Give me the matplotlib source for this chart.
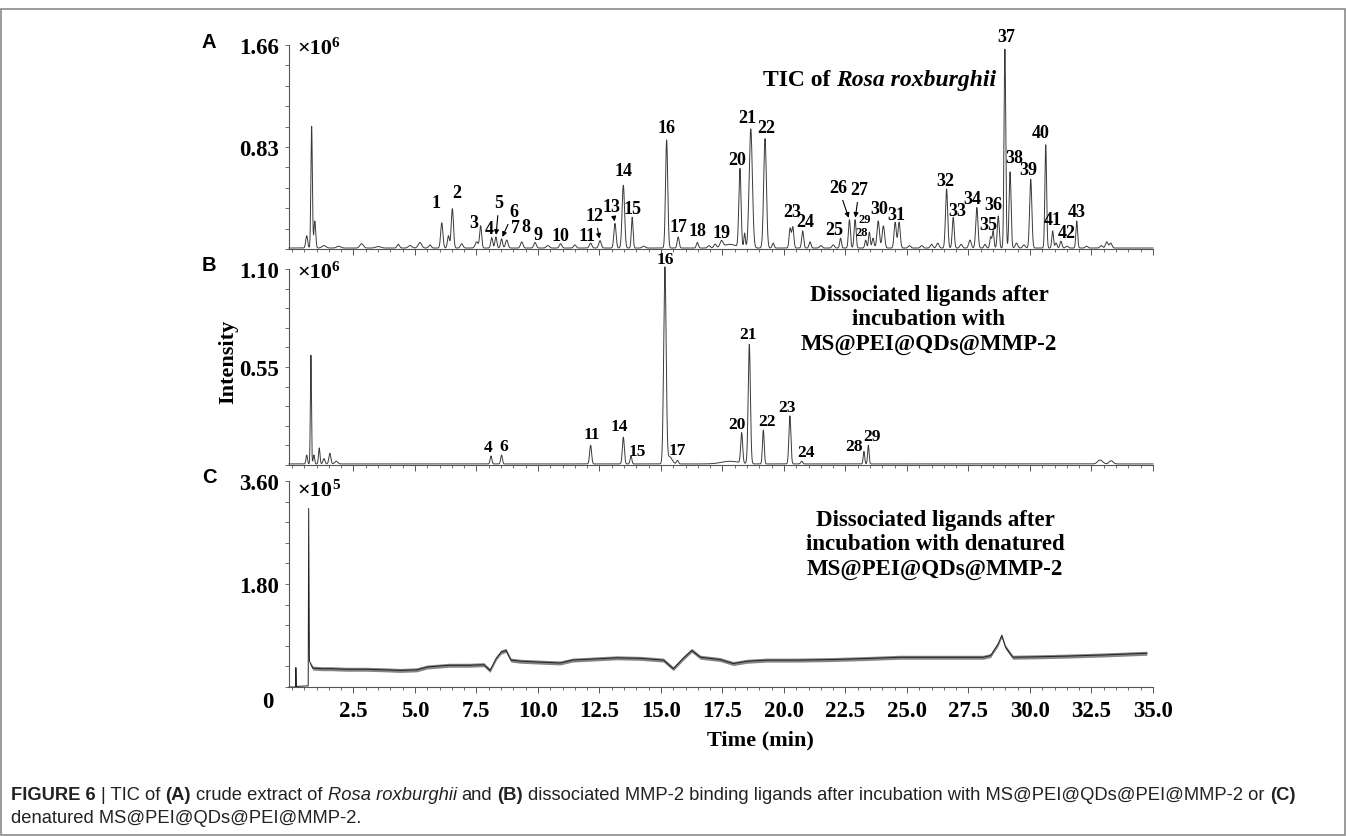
import numpy as np
import matplotlib
matplotlib.use('Agg')
from matplotlib import pyplot as plt
from matplotlib.patches import Rectangle
from matplotlib.ticker import FixedLocator, MultipleLocator, FormatStrFormatter

W, H = 1346, 837
SERIF = 'Liberation Serif'
SANS = 'Liberation Sans'
INK = '#3a3a3a'

# ---- panel A: TIC of crude extract, peaks
# retention time (min), height (x10^6), width (min), peak number
a_rt = [0.60, 0.80, 0.93, 1.30, 1.90, 2.83, 3.50, 4.32, 4.80, 5.20, 5.61,
        6.09, 6.36, 6.52, 6.90, 7.51, 7.67, 8.12, 8.29, 8.52, 8.73, 9.34,
        9.88, 10.40, 10.92, 11.50, 12.14, 12.52, 13.13, 13.47, 13.83, 14.30,
        15.23, 15.70, 16.48, 16.95, 17.20, 17.46, 17.80, 18.21, 18.40, 18.65,
        19.23, 19.56, 20.25, 20.36, 20.76, 21.06, 21.50, 22.00, 22.30, 22.66,
        22.89, 23.32, 23.47, 23.62, 23.83, 24.04, 24.52, 24.68, 25.10, 25.60,
        26.00, 26.25, 26.61, 26.88, 27.20, 27.56, 27.84, 28.17, 28.40, 28.50,
        28.71, 28.98, 29.19, 29.45, 29.75, 30.03, 30.64, 30.92, 31.06, 31.26,
        31.50, 31.90, 32.30, 32.90, 33.12, 33.28]
a_height = [0.10, 0.99, 0.22, 0.02, 0.015, 0.035, 0.012, 0.03, 0.02, 0.045, 0.025,
            0.205, 0.10, 0.32, 0.035, 0.05, 0.18, 0.085, 0.09, 0.075, 0.065, 0.05,
            0.045, 0.02, 0.035, 0.025, 0.04, 0.06, 0.20, 0.51, 0.25, 0.015,
            0.88, 0.09, 0.045, 0.02, 0.03, 0.05, 0.03, 0.64, 0.12, 0.97,
            0.89, 0.04, 0.16, 0.17, 0.14, 0.05, 0.02, 0.025, 0.08, 0.23,
            0.23, 0.065, 0.13, 0.08, 0.22, 0.18, 0.21, 0.21, 0.02, 0.02,
            0.03, 0.04, 0.48, 0.25, 0.03, 0.065, 0.33, 0.03, 0.09, 0.14,
            0.26, 1.62, 0.62, 0.04, 0.025, 0.56, 0.84, 0.14, 0.04, 0.055,
            0.015, 0.22, 0.015, 0.02, 0.05, 0.04]
a_width = [0.04, 0.03, 0.035, 0.08, 0.08, 0.07, 0.10, 0.05, 0.07, 0.07, 0.05,
           0.045, 0.04, 0.045, 0.05, 0.06, 0.04, 0.04, 0.04, 0.04, 0.05, 0.05,
           0.05, 0.06, 0.05, 0.05, 0.05, 0.05, 0.045, 0.05, 0.035, 0.06,
           0.045, 0.04, 0.04, 0.05, 0.05, 0.06, 0.25, 0.045, 0.03, 0.065,
           0.055, 0.04, 0.04, 0.04, 0.04, 0.04, 0.05, 0.05, 0.035, 0.04,
           0.04, 0.035, 0.035, 0.04, 0.05, 0.05, 0.045, 0.045, 0.05, 0.05,
           0.05, 0.05, 0.045, 0.04, 0.05, 0.05, 0.045, 0.04, 0.035, 0.035,
           0.04, 0.035, 0.04, 0.05, 0.05, 0.045, 0.035, 0.035, 0.04, 0.04,
           0.05, 0.035, 0.05, 0.05, 0.05, 0.05]
a_no = ['', '', '', '', '', '', '', '', '', '', '',
        '1', '', '2', '', '', '3', '4', '5', '6', '7', '8',
        '9', '', '10', '', '11', '12', '13', '14', '15', '',
        '16', '17', '18', '', '', '19', '', '20', '', '21',
        '22', '', '', '23', '24', '', '', '', '25', '26',
        '27', '28', '29', '', '30', '', '31', '', '', '',
        '', '', '32', '33', '', '', '34', '', '', '35',
        '36', '37', '38', '', '', '39', '40', '41', '', '42',
        '', '43', '', '', '', '']
a_base = 0.008

# ---- panel B: ligands after incubation with MS@PEI@QDs@MMP-2
b_rt = [0.60, 0.77, 0.89, 1.11, 1.30, 1.54, 1.80, 8.09, 8.52, 12.14, 13.47,
        13.78, 15.16, 15.35, 15.67, 17.80, 18.28, 18.59, 19.16, 20.24, 20.72,
        23.25, 23.43, 32.85, 33.30]
b_height = [0.05, 0.61, 0.05, 0.09, 0.03, 0.06, 0.015, 0.045, 0.05, 0.105, 0.15,
            0.045, 1.10, 0.04, 0.02, 0.015, 0.17, 0.67, 0.19, 0.27, 0.015,
            0.07, 0.105, 0.022, 0.018]
b_width = [0.03, 0.022, 0.03, 0.03, 0.04, 0.04, 0.06, 0.035, 0.035, 0.04, 0.04,
           0.035, 0.05, 0.10, 0.04, 0.35, 0.04, 0.045, 0.035, 0.04, 0.04,
           0.03, 0.03, 0.10, 0.08]
b_no = ['', '', '', '', '', '', '', '4', '6', '11', '14',
        '15', '16', '', '17', '', '20', '21', '22', '23', '24',
        '28', '29', '', '']
b_base = 0.006

# ---- panel C: ligands after incubation with denatured enzyme (x10^5)
c_time = [-0.12, 0.15, 0.16, 0.18, 0.66, 0.68, 0.71, 0.76, 0.85, 1.2, 1.6, 2.2,
          3.0, 3.8, 4.4, 5.07, 5.5, 6.4, 7.2, 7.8, 8.05, 8.3, 8.5, 8.7, 8.9,
          9.3, 9.8, 10.9, 11.4, 12.3, 13.2, 14.2, 15.1, 15.5, 15.9, 16.25,
          16.6, 17.4, 17.94, 18.5, 19.3, 20.5, 22.0, 23.5, 24.7, 26.5, 28.1,
          28.4, 28.7, 28.85, 29.0, 29.3, 30.5, 31.5, 33.0, 34.75]
c_level = [0.0, 0.0, 0.34, 0.01, 0.02, 3.12, 0.46, 0.40, 0.33, 0.32, 0.32, 0.31,
           0.31, 0.30, 0.29, 0.30, 0.35, 0.38, 0.38, 0.39, 0.29, 0.50, 0.61, 0.64, 0.47,
           0.45, 0.44, 0.42, 0.47, 0.49, 0.51, 0.50, 0.47, 0.32, 0.50, 0.64,
           0.52, 0.48, 0.41, 0.45, 0.47, 0.47, 0.48, 0.50, 0.52, 0.52, 0.52,
           0.55, 0.75, 0.90, 0.70, 0.52, 0.53, 0.54, 0.56, 0.59]
c_noise = 0.035

x_ticks = [2.5, 5.0, 7.5, 10.0, 12.5, 15.0, 17.5, 20.0, 22.5, 25.0, 27.5,
           30.0, 32.5, 35.0]

a_offsets = {'1': (-6, 20), '2': (4, 16), '3': (-7, 3), '4': (-2, 9), '5': (3, 34),
             '6': (12, 27), '7': (9, 13), '8': (4, 15), '9': (3, 8), '10': (0, 8),
             '11': (-4, 8), '12': (-5, 25), '13': (-3, 17), '14': (0, 15),
             '15': (0, 9), '16': (0, 12), '17': (0, 10), '18': (0, 12), '19': (0, 8),
             '20': (-3, 9), '21': (-4, 11), '22': (1, 11), '23': (-1, 15),
             '24': (3, 9), '25': (-6, 9), '26': (-11, 32), '27': (4, 30),
             '28': (-4, 8), '29': (-5, 13), '30': (1, 12), '31': (1, 8),
             '32': (-1, 9), '33': (4, 7), '34': (-5, 9), '35': (-5, 6),
             '36': (-5, 12), '37': (1, 13), '38': (4, 14), '39': (-2, 10),
             '40': (-5, 12), '41': (0, 11), '42': (6, 9), '43': (0, 9)}
a_arrows = ['5', '6', '12', '13', '26', '27']
a_small = ['28', '29']
b_offsets = {'4': (-3, 9), '6': (2, 9), '11': (1, 11), '14': (-4, 11), '15': (6, 5),
             '16': (0, 8), '17': (0, 10), '20': (-5, 9), '21': (-1, 10), '22': (4, 9),
             '23': (-3, 9), '24': (4, 9), '28': (-10, 5), '29': (4, 9)}

t = np.linspace(-0.12, 35.0, 9000)


def chromatogram(rt, height, width, base):
    y = np.full_like(t, base)
    for r, h, w in zip(rt, height, width):
        y += h * np.exp(-0.5 * ((t - r) / w) ** 2)
    return y


fig = plt.figure(figsize=(W / 100, H / 100), dpi=100)
renderer = fig.canvas.get_renderer()


def px_axes(top, bottom):
    return fig.add_axes([289 / W, 1 - bottom / H, (1153 - 289) / W, (bottom - top) / H])


def style_axes(ax, ymax, show_x):
    ax.set_xlim(-0.12, 35.0)
    ax.set_ylim(0, ymax)
    ax.patch.set_alpha(0)
    for s in ['top', 'right']:
        ax.spines[s].set_visible(False)
    for s in ['left', 'bottom']:
        ax.spines[s].set_color('#555555')
        ax.spines[s].set_linewidth(0.8)
    ax.yaxis.set_major_locator(FixedLocator([ymax / 2, ymax]))
    ax.yaxis.set_minor_locator(FixedLocator(np.linspace(0, ymax, 11)))
    ax.yaxis.set_major_formatter(FormatStrFormatter('%.2f'))
    ax.xaxis.set_major_locator(FixedLocator(x_ticks))
    ax.xaxis.set_minor_locator(MultipleLocator(0.5))
    ax.xaxis.set_major_formatter(FormatStrFormatter('%.1f'))
    ax.tick_params(axis='x', which='major', direction='out', length=4.5, width=0.7,
                   color='#555555', labelsize=16.5, pad=5, labelbottom=show_x)
    ax.tick_params(axis='x', which='minor', direction='out', length=2.5, width=0.6,
                   color='#555555')
    ax.tick_params(axis='y', which='both', direction='out', length=3, width=0.6,
                   color='#555555', labelsize=16.5, pad=4)
    for lab in ax.get_xticklabels() + ax.get_yticklabels():
        lab.set_fontfamily(SERIF)
        lab.set_fontweight('bold')


def label_peaks(ax, y, rt, no, offsets, arrows=(), small=(), size=13):
    for r, n in zip(rt, no):
        if not n:
            continue
        yv = y[np.argmin(np.abs(t - r))]
        dx, dy = offsets[n]
        props = None
        if n in arrows:
            props = dict(arrowstyle='-|>', lw=0.8, color='k', mutation_scale=7,
                         shrinkA=1, shrinkB=1.5)
        ax.annotate(n, xy=(r, yv), xytext=(dx, dy), textcoords='offset pixels',
                    ha='center', va='center', family=SERIF, fontweight='bold',
                    fontsize=9 if n in small else size, arrowprops=props,
                    annotation_clip=False)


def space_w(size, family, weight, style):
    a = fig.text(0, 0, 'x x', fontsize=size, family=family, fontweight=weight, fontstyle=style)
    b = fig.text(0, 0, 'xx', fontsize=size, family=family, fontweight=weight, fontstyle=style)
    w = a.get_window_extent(renderer).width - b.get_window_extent(renderer).width
    a.remove()
    b.remove()
    return w


def put_runs(x, y, runs, size, family, color='k'):
    objs = []
    for s, weight, style in runs:
        sw = space_w(size, family, weight, style)
        core = s.strip(' ')
        x += (len(s) - len(s.lstrip(' '))) * sw
        if core:
            o = fig.text(x / W, 1 - y / H, core, fontsize=size, family=family,
                         fontweight=weight, fontstyle=style, color=color,
                         ha='left', va='baseline')
            x += o.get_window_extent(renderer).width
            objs.append(o)
        x += (len(s) - len(s.rstrip(' '))) * sw
    return x, objs


def fig_text(x, y, s, **kw):
    return fig.text(x / W, 1 - y / H, s, **kw)


axA = px_axes(46, 250)
axB = px_axes(270, 466)
axC = px_axes(482, 688)
style_axes(axA, 1.66, False)
style_axes(axB, 1.10, False)
style_axes(axC, 3.60, True)

yA = chromatogram(a_rt, a_height, a_width, a_base)
axA.plot(t, yA, color=INK, lw=0.7, clip_on=False)
label_peaks(axA, yA, a_rt, a_no, a_offsets, a_arrows, a_small)

yB = chromatogram(b_rt, b_height, b_width, b_base)
axB.plot(t, yB, color=INK, lw=0.7, clip_on=False)
label_peaks(axB, yB, b_rt, b_no, b_offsets, size=12.5)

ct = np.array(c_time)
cl = np.array(c_level)
noisy = ct >= 0.76
axC.fill_between(ct, cl - c_noise, cl + c_noise, where=noisy, color='#333333',
                 alpha=0.6, lw=0)
axC.plot(ct, cl, color='#222222', lw=0.7, clip_on=False)

# panel letters, exponents, axis titles
for x, y, s in [(209, 42, 'A'), (209, 266, 'B'), (209, 478, 'C')]:
    fig_text(x, y, s, family=SANS, fontweight='bold', fontsize=14.5, ha='center', va='center')

for y, e in [(54, '6'), (278, '6'), (496, '5')]:
    x_end, _ = put_runs(297, y, [('×10', 'bold', 'normal')], 16, SERIF)
    put_runs(x_end, y - 7, [(e, 'bold', 'normal')], 11, SERIF)

fig_text(268, 702, '0', family=SERIF, fontweight='bold', fontsize=16.5, ha='center', va='center')
fig_text(228, 362, 'Intensity', family=SERIF, fontweight='bold', fontsize=16,
         rotation=90, ha='center', va='center')
fig_text(760, 740, 'Time (min)', family=SERIF, fontweight='bold', fontsize=16,
         ha='center', va='center')

put_runs(763, 86, [('TIC of ', 'bold', 'normal'), ('Rosa roxburghii', 'bold', 'italic')], 17, SERIF)
fig_text(929, 320, 'Dissociated ligands after\nincubation with\nMS@PEI@QDs@MMP-2',
         family=SERIF, fontweight='bold', fontsize=16.5, ha='center', va='center',
         linespacing=1.2)
fig_text(935, 545, 'Dissociated ligands after\nincubation with denatured\nMS@PEI@QDs@MMP-2',
         family=SERIF, fontweight='bold', fontsize=16.5, ha='center', va='center',
         linespacing=1.2)

# caption, sized so the first line spans the frame width
cap1 = [('FIGURE 6', 'bold', 'normal'), (' | TIC of ', 'normal', 'normal'),
        ('(A)', 'bold', 'normal'), (' crude extract of ', 'normal', 'normal'),
        ('Rosa roxburghii', 'normal', 'italic'), (' and ', 'normal', 'normal'),
        ('(B)', 'bold', 'normal'),
        (' dissociated MMP-2 binding ligands after incubation with MS@PEI@QDs@PEI@MMP-2 or ',
         'normal', 'normal'),
        ('(C)', 'bold', 'normal')]
cap2 = [('denatured MS@PEI@QDs@PEI@MMP-2.', 'normal', 'normal')]
size = 12
x_end, objs = put_runs(11, 800, cap1, size, SANS, '#222222')
for o in objs:
    o.remove()
size = size * (1296 - 11) / (x_end - 11)
put_runs(11, 800, cap1, size, SANS, '#222222')
put_runs(11, 823, cap2, size, SANS, '#222222')

fig.patches.append(Rectangle((1 / W, 1 / H), 1344 / W, (836 - 10) / H, transform=fig.transFigure,
                             fill=False, edgecolor='#8a8a8a', lw=1.2))

fig.savefig('out.png', dpi=100)
